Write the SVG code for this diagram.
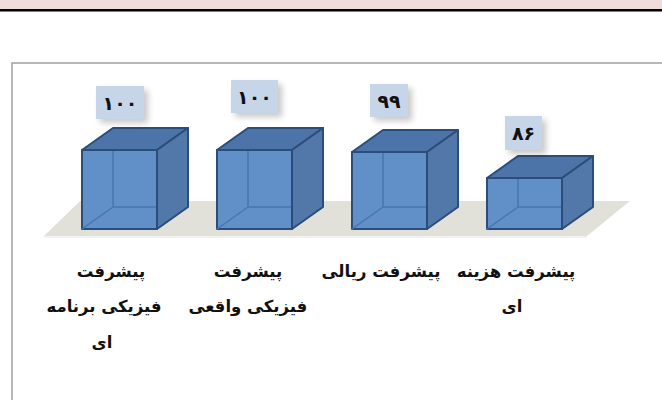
<svg xmlns="http://www.w3.org/2000/svg" width="662" height="400" viewBox="0 0 662 400">
<style>
.front{fill:#6190c8;stroke:#2b4d7a;stroke-width:2;stroke-linejoin:round}
.top{fill:#4c74a8;stroke:#2b4d7a;stroke-width:2;stroke-linejoin:round}
.side{fill:#5178a8;stroke:#2b4d7a;stroke-width:2;stroke-linejoin:round}
.hid{fill:none;stroke:#4676b0;stroke-width:1.5}
.vbox{fill:#c6d5e8}
.val{font-family:"DejaVu Sans",sans-serif;font-weight:bold;font-size:19px;fill:#111;text-anchor:middle;direction:rtl}
.lbl{font-family:"DejaVu Sans",sans-serif;font-weight:bold;font-size:16.5px;fill:#111;text-anchor:middle;direction:rtl}
</style>
<defs>
<filter id="sh" x="-30%" y="-30%" width="180%" height="180%">
<feGaussianBlur in="SourceAlpha" stdDeviation="3"/>
<feOffset dx="4" dy="4" result="b"/>
<feComponentTransfer><feFuncA type="linear" slope="0.22"/></feComponentTransfer>
<feMerge><feMergeNode/><feMergeNode in="SourceGraphic"/></feMerge>
</filter>
</defs>
<rect x="0" y="0" width="662" height="9" fill="#f2dcdb"/>
<rect x="0" y="9" width="662" height="2.5" fill="#000"/>
<rect x="12" y="63" width="700" height="400" fill="none" stroke="#a0a0a0" stroke-width="1.5"/>
<polygon points="80,201 630,201 587,236 44,236" fill="#e1e1da"/>
<line x1="44" y1="237" x2="587" y2="237" stroke="#ececea" stroke-width="1.5"/>
<g id="connectors"></g>
<g id="node1">
<rect class="front" x="82" y="150" width="75" height="79"/>
<path class="hid" d="M113,128 V207 H157 M82,229 L113,207"/>
<polygon class="top" points="82,150 113,128 188,128 157,150"/>
<polygon class="side" points="157,150 188,128 188,207 157,229"/>
<rect class="vbox" x="96" y="86" width="48" height="33" filter="url(#sh)"/>
<text class="val" x="120" y="110">۱۰۰</text>
<text class="lbl" x="111" y="277">پیشرفت</text>
<text class="lbl" x="104" y="312">فیزیکی برنامه</text>
<text class="lbl" x="102" y="348">ای</text>
</g>
<g id="node2">
<rect class="front" x="217" y="150" width="75" height="79"/>
<path class="hid" d="M248,128 V207 H292 M217,229 L248,207"/>
<polygon class="top" points="217,150 248,128 323,128 292,150"/>
<polygon class="side" points="292,150 323,128 323,207 292,229"/>
<rect class="vbox" x="231" y="80" width="47" height="33" filter="url(#sh)"/>
<text class="val" x="254.5" y="104">۱۰۰</text>
<text class="lbl" x="248" y="277">پیشرفت</text>
<text class="lbl" x="248" y="312">فیزیکی واقعی</text>
</g>
<g id="node3">
<rect class="front" x="352" y="152" width="75" height="77"/>
<path class="hid" d="M383,130 V207 H427 M352,229 L383,207"/>
<polygon class="top" points="352,152 383,130 458,130 427,152"/>
<polygon class="side" points="427,152 458,130 458,207 427,229"/>
<rect class="vbox" x="370" y="84" width="38" height="33" filter="url(#sh)"/>
<text class="val" x="389" y="108">۹۹</text>
<text class="lbl" x="381" y="277">پیشرفت ریالی</text>
</g>
<g id="node4">
<rect class="front" x="487" y="178" width="75" height="51"/>
<path class="hid" d="M518,156 V207 H562 M487,229 L518,207"/>
<polygon class="top" points="487,178 518,156 593,156 562,178"/>
<polygon class="side" points="562,178 593,156 593,207 562,229"/>
<rect class="vbox" x="505" y="116" width="37" height="34" filter="url(#sh)"/>
<text class="val" x="523.5" y="140">۸۶</text>
<text class="lbl" x="516" y="277">پیشرفت هزینه</text>
<text class="lbl" x="512" y="312">ای</text>
</g>
</svg>
